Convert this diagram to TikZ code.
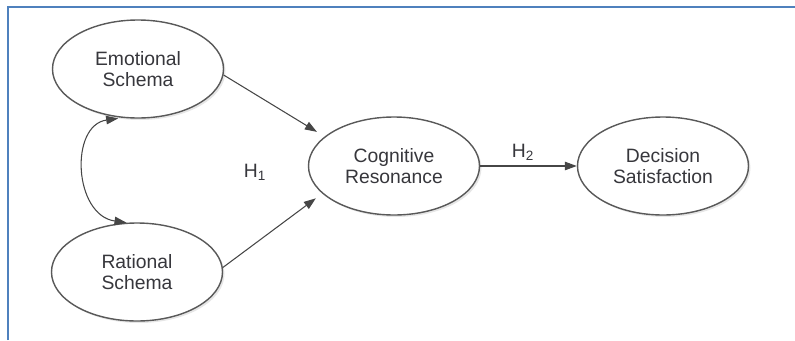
\documentclass[tikz,border=0pt]{standalone}
\usepackage{fontspec}
\setmainfont{Liberation Sans}
\usetikzlibrary{shapes.geometric,arrows.meta,shadows}
\definecolor{framebl}{RGB}{79,129,189}
\definecolor{inkgray}{RGB}{70,70,70}
\definecolor{textgray}{RGB}{55,55,60}
\begin{document}
\begin{tikzpicture}[font=\fontsize{11}{12}\selectfont,
	construct/.style={ellipse, draw=inkgray!90, line width=0.8pt, fill=white, minimum width=3.42cm, minimum height=1.96cm, inner sep=0pt, align=center, text=textgray, drop shadow={opacity=0.2, shadow xshift=0.04cm, shadow yshift=-0.04cm}},
	path/.style={draw=inkgray, line width=0.6pt, -{Triangle[length=0.24cm, width=0.17cm]}},
	hyp/.style={text=textgray}]
	\useasboundingbox (0,0) rectangle (15.9,6.8);
	\draw[framebl, line width=1.1pt] (0.16,0) -- (0.16,6.66) -- (15.9,6.66);
	\node[construct] (emo) at (2.76,5.42) {Emotional\\Schema};
	\node[construct] (rat) at (2.74,1.36) {Rational\\Schema};
	\node[construct] (cog) at (7.88,3.48) {Cognitive\\Resonance};
	\node[construct] (dec) at (13.26,3.48) {Decision\\Satisfaction};
	\draw[path, shorten >=0.18cm] (emo.-4) -- (cog.157);
	\draw[path, shorten >=0.16cm] (rat.3) -- (cog.201);
	\draw[path] (cog.east) -- (dec.west);
	\draw[path, {Triangle[length=0.24cm, width=0.17cm]}-{Triangle[length=0.24cm, width=0.17cm]}, shorten <=0.08cm] (emo.252) to[out=188, in=172, looseness=1.3] (rat.102);
	\node[hyp] (h1) at (5.1,3.36) {H\textsubscript{1}};
	\node[hyp] (h2) at (10.46,3.76) {H\textsubscript{2}};
\end{tikzpicture}
\end{document}
